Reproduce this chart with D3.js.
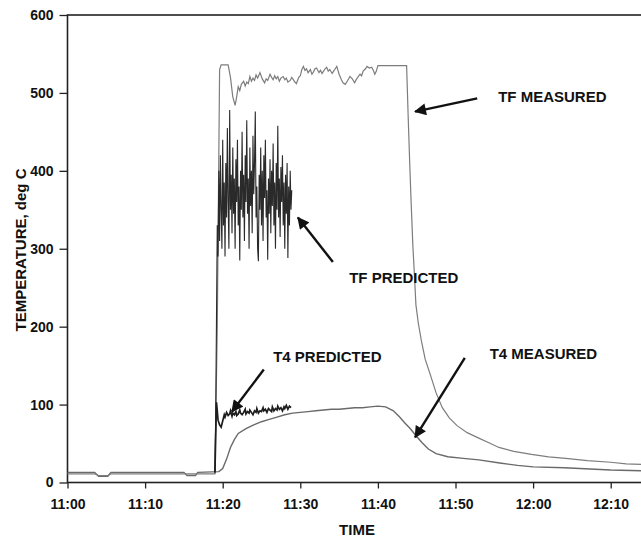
<!DOCTYPE html>
<html>
<head>
<meta charset="utf-8">
<script src="https://cdn.jsdelivr.net/npm/d3@7"></script>
<style>
  html, body { margin: 0; padding: 0; background: #fff; }
  svg { display: block; font-family: "Liberation Sans", Arial, sans-serif; }
</style>
</head>
<body>
<div id="chart"></div>
<script>
// time in minutes after 11:00, temperature in deg C

const timeTicks = [0, 10, 20, 30, 40, 50, 60, 70];
const timeLabels = ["11:00", "11:10", "11:20", "11:30", "11:40", "11:50", "12:00", "12:10"];
const tempTicks = [0, 100, 200, 300, 400, 500, 600];

const tfMeasured = [
  [0, 11], [3.5, 11], [4.0, 9], [5.2, 9], [5.6, 11], [15.0, 11], [16.7, 11], [19.0, 11],
  [19.3, 200], [19.6, 530], [19.8, 536], [20.7, 536], [21.0, 520], [21.3, 495], [21.6, 484],
  [21.8, 495], [22.0, 508], [22.2, 503], [22.4, 511], [22.7, 515], [22.9, 509], [23.1, 514],
  [23.3, 512], [23.5, 521], [23.7, 515], [23.9, 519], [24.1, 516], [24.3, 523], [24.5, 519],
  [24.8, 526], [25.1, 518], [25.4, 513], [25.6, 518], [25.8, 516], [26.1, 524], [26.3, 520],
  [26.5, 517], [26.7, 522], [26.9, 518], [27.1, 521], [27.3, 515], [27.5, 519], [27.8, 521],
  [28.0, 517], [28.2, 519], [28.4, 514], [28.7, 516], [28.9, 520], [29.1, 517], [29.3, 514],
  [29.5, 512], [29.8, 520], [30.0, 522], [30.2, 530], [30.4, 534], [30.6, 529], [30.8, 531],
  [31.0, 526], [31.3, 530], [31.5, 524], [31.7, 527], [31.9, 531], [32.1, 532], [32.4, 526],
  [32.6, 529], [32.8, 525], [33.0, 528], [33.2, 531], [33.4, 533], [33.6, 528], [33.8, 530],
  [34.1, 525], [34.3, 528], [34.5, 531], [34.7, 534], [35.0, 524], [35.3, 517], [35.5, 513],
  [35.8, 511], [36.1, 516], [36.4, 521], [36.7, 518], [37.0, 513], [37.2, 517], [37.4, 520],
  [37.7, 524], [37.9, 522], [38.1, 528], [38.4, 531], [38.6, 534], [38.9, 532], [39.2, 533],
  [39.4, 529], [39.6, 524], [39.8, 528], [40.0, 535], [43.7, 535], [43.9, 470], [44.1, 410],
  [44.3, 355], [44.5, 305], [44.7, 268], [44.9, 228], [45.2, 205], [45.6, 182], [46.1, 158],
  [46.7, 140], [47.5, 115], [48.3, 96], [49.2, 83], [50.2, 73], [51.5, 64], [53.0, 57],
  [54.3, 51], [55.6, 45], [57.5, 40], [59.8, 36], [62.0, 33], [64.2, 31], [67.0, 28],
  [70.0, 26], [72.0, 24], [74.5, 23]
];

const tfPredicted = [
  [19.0, 12], [19.1, 90], [19.2, 210], [19.3, 330], [19.4, 290], [19.5, 400], [19.6, 310],
  [19.7, 420], [19.8, 350], [19.9, 300], [20.0, 440], [20.1, 330], [20.2, 385], [20.3, 290],
  [20.4, 410], [20.5, 340], [20.6, 455], [20.7, 360], [20.8, 300], [20.9, 478], [21.0, 350],
  [21.1, 395], [21.2, 320], [21.3, 430], [21.4, 345], [21.5, 390], [21.6, 300], [21.7, 415],
  [21.8, 360], [21.9, 440], [22.0, 330], [22.1, 380], [22.2, 285], [22.3, 400], [22.4, 350],
  [22.5, 450], [22.6, 340], [22.7, 395], [22.8, 310], [22.9, 420], [23.0, 360], [23.1, 465],
  [23.2, 345], [23.3, 390], [23.4, 300], [23.5, 430], [23.6, 355], [23.7, 400], [23.8, 320],
  [23.9, 445], [24.0, 370], [24.1, 410], [24.2, 476], [24.3, 340], [24.4, 380], [24.5, 300],
  [24.6, 284], [24.7, 395], [24.8, 350], [24.9, 430], [25.0, 330], [25.1, 400], [25.2, 310],
  [25.3, 420], [25.4, 365], [25.5, 440], [25.6, 340], [25.7, 375], [25.8, 286], [25.9, 390],
  [26.0, 345], [26.1, 415], [26.2, 320], [26.3, 400], [26.4, 355], [26.5, 435], [26.6, 330],
  [26.7, 385], [26.8, 300], [26.9, 410], [27.0, 350], [27.1, 458], [27.2, 340], [27.3, 390],
  [27.4, 315], [27.5, 405], [27.6, 360], [27.7, 420], [27.8, 330], [27.9, 385], [28.0, 300],
  [28.1, 395], [28.2, 345], [28.3, 410], [28.4, 288], [28.5, 380], [28.6, 330], [28.7, 400],
  [28.8, 350], [28.9, 375]
];

const t4Predicted = [
  [19.0, 13], [19.1, 60], [19.2, 103], [19.3, 92], [19.4, 80], [19.6, 74], [19.8, 71],
  [20.0, 79], [20.2, 87], [20.3, 84], [20.5, 90], [20.7, 86], [20.9, 88], [21.0, 92],
  [21.2, 85], [21.3, 89], [21.5, 87], [21.7, 91], [21.8, 86], [22.0, 88], [22.2, 93],
  [22.3, 89], [22.5, 87], [22.7, 90], [22.9, 94], [23.0, 88], [23.2, 91], [23.4, 89],
  [23.5, 93], [23.7, 90], [23.9, 87], [24.1, 92], [24.3, 90], [24.4, 95], [24.6, 89],
  [24.8, 92], [25.0, 91], [25.2, 96], [25.3, 92], [25.5, 94], [25.7, 90], [25.9, 95],
  [26.1, 93], [26.3, 91], [26.4, 97], [26.6, 92], [26.8, 95], [27.0, 93], [27.1, 98],
  [27.3, 94], [27.5, 96], [27.7, 92], [27.9, 97], [28.0, 95], [28.2, 99], [28.4, 94],
  [28.6, 98], [28.8, 96]
];

const t4Measured = [
  [0, 13], [3.5, 13], [4.0, 8], [5.2, 8], [5.6, 13], [15.0, 13], [15.4, 9], [16.5, 9],
  [16.8, 13], [19.5, 14], [20.0, 18], [20.5, 30], [21.0, 45], [21.5, 55], [22.0, 63],
  [23.0, 69], [24.0, 74], [25.0, 78], [26.0, 81], [27.0, 84], [28.0, 87], [29.0, 89],
  [30.0, 90], [31.0, 91], [32.0, 92], [33.0, 93], [34.0, 94], [35.0, 94], [36.0, 95],
  [37.0, 96], [38.0, 96], [39.0, 97], [40.0, 98], [41.0, 97], [42.0, 92], [42.8, 84],
  [43.5, 76], [44.1, 70], [45.0, 59], [45.7, 51], [46.5, 43], [47.5, 37], [49.0, 33],
  [51.0, 31], [53.0, 29], [55.7, 25], [58.0, 22], [60.0, 20], [64.0, 19], [70.0, 16],
  [74.5, 15]
];

// annotation text and arrows, in data units
const labelNames = ["TF MEASURED", "TF PREDICTED", "T4 PREDICTED", "T4 MEASURED"];
const labelAt = [[55.5, 495], [36.3, 263], [26.5, 161], [54.4, 165]];
const arrowFrom = [[52.8, 493], [34.2, 283], [25.3, 145], [51.2, 160]];
const arrowTo = [[44.8, 476], [29.7, 340], [21.2, 91], [44.8, 58]];

function drawChart() {
  const W = 641, H = 537;
  const margin = {top: 15, left: 67.5};
  const pxPerMin = 7.76;
  const plotBottom = 482.5;

  const svg = d3.select("#chart").append("svg")
      .attr("width", W)
      .attr("height", H);

  const x = d3.scaleLinear()
      .domain([0, 76])
      .range([margin.left, margin.left + 76 * pxPerMin]);

  const y = d3.scaleLinear()
      .domain([0, 600])
      .range([plotBottom, margin.top]);

  // frame (right side runs off the picture)
  svg.append("rect")
      .attr("x", x(0))
      .attr("y", y(600))
      .attr("width", x(76) - x(0))
      .attr("height", y(0) - y(600))
      .attr("fill", "none")
      .attr("stroke", "#222")
      .attr("stroke-width", 1.6);

  const line = d3.line()
      .x(d => x(d[0]))
      .y(d => y(d[1]));

  // lines
  svg.append("path").datum(t4Measured)
      .attr("d", line)
      .attr("fill", "none")
      .attr("stroke", "#6a6a6a")
      .attr("stroke-width", 1.4);

  svg.append("path").datum(tfMeasured)
      .attr("d", line)
      .attr("fill", "none")
      .attr("stroke", "#7d7d7d")
      .attr("stroke-width", 1.2);

  svg.append("path").datum(tfPredicted)
      .attr("d", line)
      .attr("fill", "none")
      .attr("stroke", "#2a2a2a")
      .attr("stroke-width", 1.1);

  svg.append("path").datum(t4Predicted)
      .attr("d", line)
      .attr("fill", "none")
      .attr("stroke", "#1e1e1e")
      .attr("stroke-width", 1.7);

  // axes
  const xAxis = d3.axisBottom(x)
      .tickValues(timeTicks)
      .tickFormat((d, i) => timeLabels[i])
      .tickSize(6)
      .tickPadding(11);

  const gx = svg.append("g")
      .attr("transform", `translate(0,${plotBottom})`)
      .call(xAxis);
  gx.select(".domain").remove();

  const yAxis = d3.axisLeft(y)
      .tickValues(tempTicks)
      .tickSize(8)
      .tickPadding(6);

  const gy = svg.append("g")
      .attr("transform", `translate(${margin.left},0)`)
      .call(yAxis);
  gy.select(".domain").remove();

  svg.selectAll(".tick line").attr("stroke", "#222").attr("stroke-width", 1.3);
  svg.selectAll(".tick text")
      .attr("fill", "#111")
      .style("font-size", "14px")
      .style("font-weight", "bold")
      .style("font-family", "'Liberation Sans', Arial, sans-serif");

  // axis titles
  svg.append("text")
      .attr("transform", "translate(21,250) rotate(-90)")
      .attr("text-anchor", "middle")
      .attr("dy", "0.35em")
      .style("font-size", "15px")
      .style("font-weight", "bold")
      .attr("fill", "#111")
      .text("TEMPERATURE, deg C");

  svg.append("text")
      .attr("x", 357)
      .attr("y", 530)
      .attr("text-anchor", "middle")
      .attr("dy", "0.35em")
      .style("font-size", "15px")
      .style("font-weight", "bold")
      .attr("fill", "#111")
      .text("TIME");

  // arrowhead
  svg.append("defs").append("marker")
      .attr("id", "arrow")
      .attr("viewBox", "0 0 10 10")
      .attr("refX", 9)
      .attr("refY", 5)
      .attr("markerWidth", 5.5)
      .attr("markerHeight", 5)
      .attr("orient", "auto")
      .append("path")
      .attr("d", "M0,0 L10,5 L0,10 Z")
      .attr("fill", "#111");

  svg.append("g")
      .selectAll("line")
      .data(labelNames)
      .join("line")
      .attr("x1", (d, i) => x(arrowFrom[i][0]))
      .attr("y1", (d, i) => y(arrowFrom[i][1]))
      .attr("x2", (d, i) => x(arrowTo[i][0]))
      .attr("y2", (d, i) => y(arrowTo[i][1]))
      .attr("stroke", "#111")
      .attr("stroke-width", 2.4)
      .attr("marker-end", "url(#arrow)");

  svg.append("g")
      .selectAll("text")
      .data(labelNames)
      .join("text")
      .attr("x", (d, i) => x(labelAt[i][0]))
      .attr("y", (d, i) => y(labelAt[i][1]))
      .attr("dy", "0.35em")
      .style("font-size", "15px")
      .style("font-weight", "bold")
      .attr("fill", "#111")
      .text(d => d);
}

drawChart();
</script>
</body>
</html>
